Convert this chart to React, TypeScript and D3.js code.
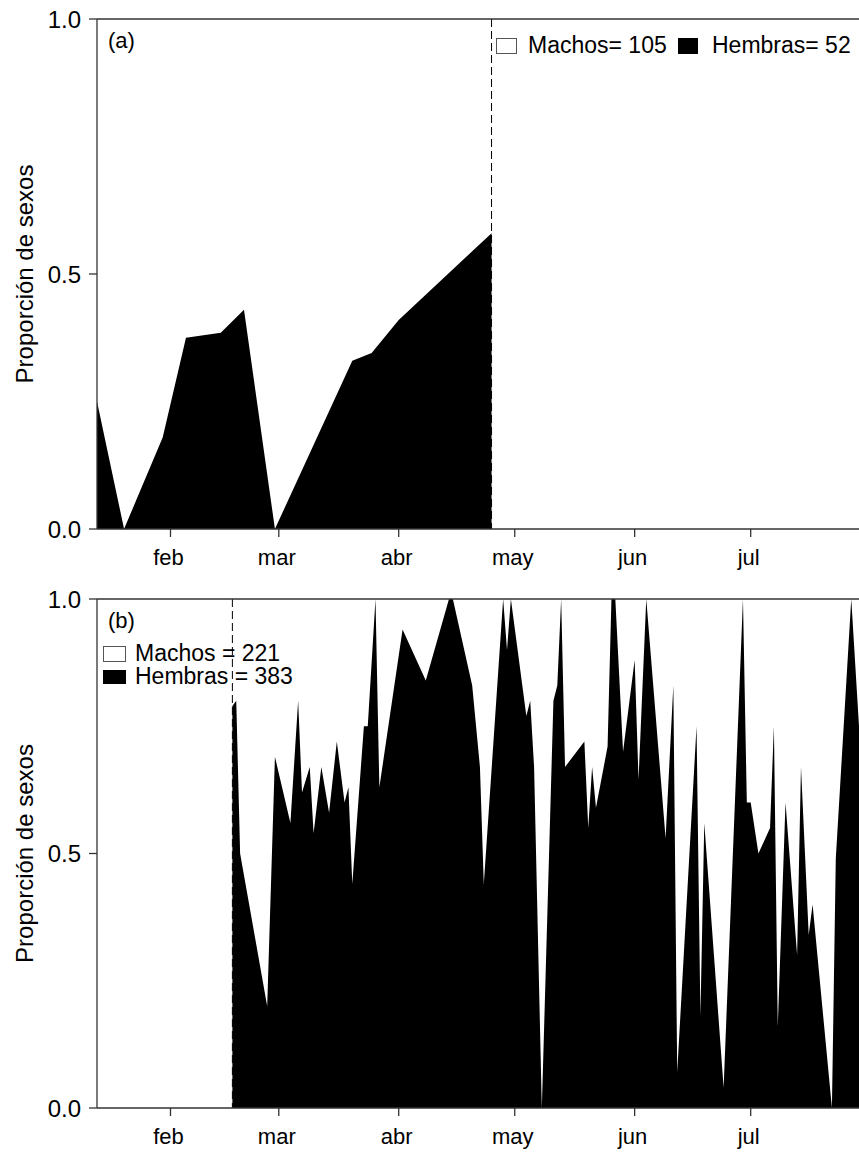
import React from "react";
import * as d3 from "d3";

// Sampling dates and proportion of females per sample, panel (a)
const datesA = [
  "2009-01-13", "2009-01-20", "2009-01-30", "2009-02-05", "2009-02-14", "2009-02-20",
  "2009-02-28", "2009-03-20", "2009-03-25", "2009-04-01", "2009-04-25",
];
const femalesA = [0.25, 0.0, 0.18, 0.375, 0.385, 0.43, 0.0, 0.33, 0.345, 0.41, 0.58];

// Sampling dates and proportion of females per sample, panel (b)
const datesB = [
  "2009-02-17", "2009-02-18", "2009-02-19", "2009-02-26", "2009-02-28", "2009-03-04",
  "2009-03-06", "2009-03-07", "2009-03-09", "2009-03-10", "2009-03-12", "2009-03-14",
  "2009-03-16", "2009-03-18", "2009-03-19", "2009-03-20", "2009-03-23", "2009-03-24",
  "2009-03-26", "2009-03-27", "2009-04-02", "2009-04-08", "2009-04-14", "2009-04-15",
  "2009-04-20", "2009-04-22", "2009-04-23", "2009-04-28", "2009-04-29", "2009-04-30",
  "2009-05-04", "2009-05-05", "2009-05-06", "2009-05-08", "2009-05-11", "2009-05-12",
  "2009-05-13", "2009-05-14", "2009-05-19", "2009-05-20", "2009-05-21", "2009-05-22",
  "2009-05-25", "2009-05-26", "2009-05-27", "2009-05-29", "2009-06-01", "2009-06-02",
  "2009-06-04", "2009-06-09", "2009-06-11", "2009-06-12", "2009-06-17", "2009-06-18",
  "2009-06-19", "2009-06-24", "2009-06-29", "2009-06-30", "2009-07-01", "2009-07-03",
  "2009-07-06", "2009-07-07", "2009-07-08", "2009-07-10", "2009-07-13", "2009-07-14",
  "2009-07-16", "2009-07-17", "2009-07-22", "2009-07-23", "2009-07-27", "2009-07-29",
];
const femalesB = [
  0.79, 0.8, 0.5, 0.2, 0.69, 0.56,
  0.8, 0.62, 0.67, 0.54, 0.67, 0.58,
  0.72, 0.6, 0.63, 0.44, 0.75, 0.75,
  1.0, 0.63, 0.94, 0.84, 1.0, 1.0,
  0.83, 0.67, 0.44, 1.0, 0.9, 1.0,
  0.77, 0.8, 0.67, 0.0, 0.8, 0.83,
  1.0, 0.67, 0.72, 0.55, 0.67, 0.59,
  0.71, 1.0, 1.0, 0.7, 0.88, 0.645,
  1.0, 0.53, 0.83, 0.07, 0.75, 0.18,
  0.56, 0.04, 1.0, 0.6, 0.6, 0.5,
  0.55, 0.75, 0.16, 0.6, 0.3, 0.67,
  0.34, 0.4, 0.0, 0.49, 1.0, 0.75,
];

// Start / end of each sampling season (dashed markers)
const seasonMarkA = "2009-04-25";
const seasonMarkB = "2009-02-17";

// Legend counts
const machosA = 105;
const hembrasA = 52;
const machosB = 221;
const hembrasB = 383;

// Axis ticks
const monthTicks = ["2009-02-01", "2009-03-01", "2009-04-01", "2009-05-01", "2009-06-01", "2009-07-01"];
const monthLabels = ["feb", "mar", "abr", "may", "jun", "jul"];
const yTicks = [0, 0.5, 1];

const W = 859;
const H = 1157;
const LEFT = 97;
const RIGHT = 859;
const FONT = "'Liberation Sans', Arial, Helvetica, sans-serif";
const AXIS = "#333";

const parse = d3.timeParse("%Y-%m-%d");

const x = d3
  .scaleTime()
  .domain([parse("2009-01-13")!, parse("2009-07-29")!])
  .range([LEFT, RIGHT]);

type Pt = { date: Date; v: number };

function Panel(props: {
  id: string;
  top: number;
  bottom: number;
  dates: string[];
  values: number[];
  mark: string;
  tag: string;
  legend: React.ReactNode;
}) {
  const { id, top, bottom, dates, values, mark, tag, legend } = props;
  const y = d3.scaleLinear().domain([0, 1]).range([bottom, top]);
  const pts: Pt[] = dates.map((d, i) => ({ date: parse(d)!, v: values[i] }));
  const area = d3
    .area<Pt>()
    .x((d) => x(d.date))
    .y0(y(0))
    .y1((d) => y(d.v));
  const mx = x(parse(mark)!);
  const midY = (top + bottom) / 2;
  return (
    <g>
      <defs>
        <clipPath id={`clip-${id}`}>
          <rect x={LEFT} y={top - 1} width={RIGHT - LEFT} height={bottom - top + 2} />
        </clipPath>
      </defs>
      <line x1={mx} x2={mx} y1={top} y2={bottom} stroke="#000" strokeWidth={1} strokeDasharray="8,4" />
      <path d={area(pts) ?? ""} fill="#000" clipPath={`url(#clip-${id})`} />
      {/* frame: top line, left axis, bottom axis */}
      <line x1={LEFT} x2={RIGHT} y1={top} y2={top} stroke={AXIS} strokeWidth={1.3} />
      <line x1={LEFT} x2={LEFT} y1={top} y2={bottom} stroke={AXIS} strokeWidth={1.3} />
      <line x1={LEFT} x2={RIGHT} y1={bottom} y2={bottom} stroke={AXIS} strokeWidth={1.3} />
      {yTicks.map((t) => (
        <g key={t}>
          <line x1={LEFT - 8} x2={LEFT} y1={y(t)} y2={y(t)} stroke={AXIS} strokeWidth={1.3} />
          <text x={LEFT - 16} y={y(t) + 8.5} textAnchor="end" fontSize={24} fontFamily={FONT}>
            {d3.format(".1f")(t)}
          </text>
        </g>
      ))}
      {monthTicks.map((m, i) => {
        const tx = x(parse(m)!);
        return (
          <g key={m}>
            <line x1={tx} x2={tx} y1={bottom} y2={bottom + 8} stroke={AXIS} strokeWidth={1.3} />
            <text x={tx - 2} y={bottom + 36} textAnchor="middle" fontSize={22} fontFamily={FONT}>
              {monthLabels[i]}
            </text>
          </g>
        );
      })}
      <text
        transform={`translate(33,${midY}) rotate(-90)`}
        textAnchor="middle"
        fontSize={24}
        fontFamily={FONT}
      >
        Proporción de sexos
      </text>
      <text x={108} y={top + 29} fontSize={22} fontFamily={FONT}>
        {tag}
      </text>
      {legend}
    </g>
  );
}

export default function App() {
  const legendA = (
    <g fontFamily={FONT} fontSize={23}>
      <rect x={496.5} y={38.5} width={20} height={15} fill="#fff" stroke="#555" strokeWidth={1} />
      <text x={528} y={53}>{`Machos= ${machosA}`}</text>
      <rect x={678} y={38} width={20} height={16} fill="#000" />
      <text x={712} y={53}>{`Hembras= ${hembrasA}`}</text>
    </g>
  );
  const legendB = (
    <g fontFamily={FONT} fontSize={23}>
      <rect x={103.5} y={646.5} width={22} height={15} fill="#fff" stroke="#555" strokeWidth={1} />
      <text x={135} y={661}>{`Machos = ${machosB}`}</text>
      <rect x={103} y={670} width={23} height={14} fill="#000" />
      <text x={135} y={684}>{`Hembras = ${hembrasB}`}</text>
    </g>
  );
  return (
    <svg
      width={W}
      height={H}
      viewBox={`0 0 ${W} ${H}`}
      style={{ position: "absolute", left: 0, top: 0, background: "#fff" }}
    >
      <rect width={W} height={H} fill="#fff" />
      <Panel
        id="a"
        top={19}
        bottom={529}
        dates={datesA}
        values={femalesA}
        mark={seasonMarkA}
        tag="(a)"
        legend={legendA}
      />
      <Panel
        id="b"
        top={599}
        bottom={1108}
        dates={datesB}
        values={femalesB}
        mark={seasonMarkB}
        tag="(b)"
        legend={legendB}
      />
    </svg>
  );
}
